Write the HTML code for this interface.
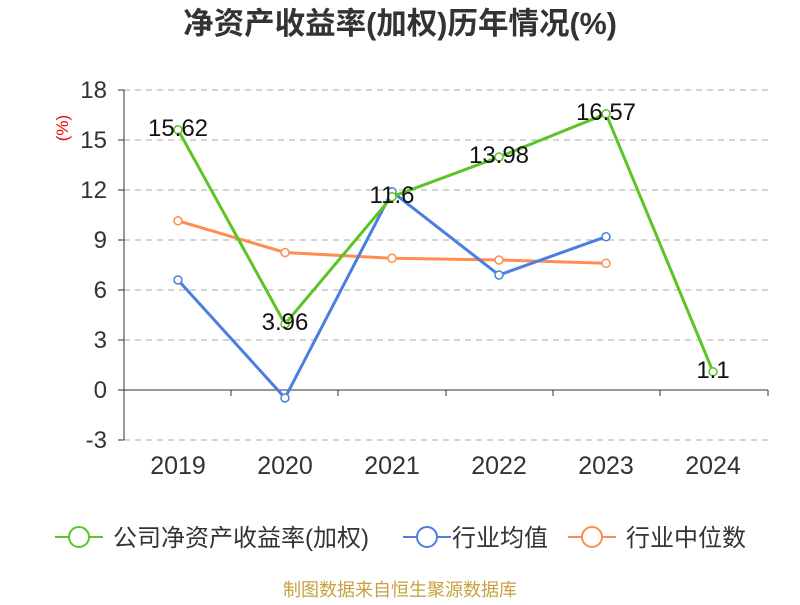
<!DOCTYPE html>
<html><head><meta charset="utf-8"><style>
body{margin:0;background:#fff;}
svg text{font-family:"Liberation Sans","Noto Sans CJK SC",sans-serif;}
</style></head><body>
<svg width="800" height="600" xmlns="http://www.w3.org/2000/svg">
<text x="400" y="34" text-anchor="middle" font-size="30.5" font-weight="bold" fill="#333">净资产收益率(加权)历年情况(%)</text>
<g stroke="#bbb" stroke-dasharray="6,5" stroke-width="1.2">
<line x1="124" x2="768" y1="90" y2="90"/><line x1="124" x2="768" y1="140" y2="140"/>
<line x1="124" x2="768" y1="190" y2="190"/><line x1="124" x2="768" y1="240" y2="240"/>
<line x1="124" x2="768" y1="290" y2="290"/><line x1="124" x2="768" y1="340" y2="340"/>
<line x1="124" x2="768" y1="440" y2="440"/>
</g>
<g stroke="#333" stroke-width="1">
<line x1="124" x2="124" y1="90" y2="440"/>
<line x1="118" x2="124" y1="90" y2="90"/><line x1="118" x2="124" y1="140" y2="140"/>
<line x1="118" x2="124" y1="190" y2="190"/><line x1="118" x2="124" y1="240" y2="240"/>
<line x1="118" x2="124" y1="290" y2="290"/><line x1="118" x2="124" y1="340" y2="340"/>
<line x1="118" x2="124" y1="390" y2="390"/><line x1="118" x2="124" y1="440" y2="440"/>
<line x1="124" x2="768" y1="390" y2="390"/>
<line x1="231" x2="231" y1="390" y2="396"/><line x1="338" x2="338" y1="390" y2="396"/>
<line x1="446" x2="446" y1="390" y2="396"/><line x1="553" x2="553" y1="390" y2="396"/>
<line x1="660" x2="660" y1="390" y2="396"/><line x1="768" x2="768" y1="390" y2="396"/>
</g>
<g font-size="24" fill="#333" text-anchor="end">
<text x="107" y="98">18</text><text x="107" y="148">15</text><text x="107" y="198">12</text>
<text x="107" y="248">9</text><text x="107" y="298">6</text><text x="107" y="348">3</text>
<text x="107" y="398">0</text><text x="107" y="448">-3</text>
</g>
<text x="68" y="128" font-size="17" fill="#e00" text-anchor="middle" transform="rotate(-90 68 128)">(%)</text>
<g font-size="25" fill="#333" text-anchor="middle">
<text x="178" y="474">2019</text><text x="285" y="474">2020</text><text x="392" y="474">2021</text>
<text x="499" y="474">2022</text><text x="606" y="474">2023</text><text x="713" y="474">2024</text>
</g>
<polyline fill="none" stroke="#ff8c50" stroke-width="3" points="178,220.8 285,252.5 392,258.3 499,260 606,263.3"/>
<polyline fill="none" stroke="#4a7fe0" stroke-width="3" points="178,280 285,398 392,191.7 499,275 606,236.7"/>
<polyline fill="none" stroke="#5cc424" stroke-width="3" points="178,129.7 285,324 392,196.7 499,157 606,113.8 713,371.7"/>
<g fill="#fff" stroke-width="1.5">
<g stroke="#ff8c50"><circle cx="178" cy="220.8" r="4"/><circle cx="285" cy="252.5" r="4"/><circle cx="392" cy="258.3" r="4"/><circle cx="499" cy="260" r="4"/><circle cx="606" cy="263.3" r="4"/></g>
<g stroke="#4a7fe0"><circle cx="178" cy="280" r="4"/><circle cx="285" cy="398" r="4"/><circle cx="392" cy="191.7" r="4"/><circle cx="499" cy="275" r="4"/><circle cx="606" cy="236.7" r="4"/></g>
<g stroke="#5cc424"><circle cx="178" cy="129.7" r="4"/><circle cx="285" cy="324" r="4"/><circle cx="392" cy="196.7" r="4"/><circle cx="499" cy="157" r="4"/><circle cx="606" cy="113.8" r="4"/><circle cx="713" cy="371.7" r="4"/></g>
</g>
<g font-size="24" fill="#111" text-anchor="middle">
<text x="178" y="136">15.62</text><text x="285" y="330">3.96</text><text x="392" y="203">11.6</text>
<text x="499" y="163">13.98</text><text x="606" y="120">16.57</text><text x="713" y="378">1.1</text>
</g>
<g stroke-width="2" fill="#fff">
<line x1="55" x2="103" y1="537" y2="537" stroke="#5cc424"/><circle cx="79" cy="537" r="10" stroke="#5cc424"/>
<line x1="403" x2="451" y1="537" y2="537" stroke="#4a7fe0"/><circle cx="427" cy="537" r="10" stroke="#4a7fe0"/>
<line x1="568" x2="616" y1="537" y2="537" stroke="#ff8c50"/><circle cx="592" cy="537" r="10" stroke="#ff8c50"/>
</g>
<g font-size="24" fill="#333">
<text x="113" y="546">公司净资产收益率(加权)</text>
<text x="452" y="546">行业均值</text>
<text x="626" y="546">行业中位数</text>
</g>
<text x="400" y="596" font-size="18" fill="#c8a040" text-anchor="middle">制图数据来自恒生聚源数据库</text>
</svg>
</body></html>
